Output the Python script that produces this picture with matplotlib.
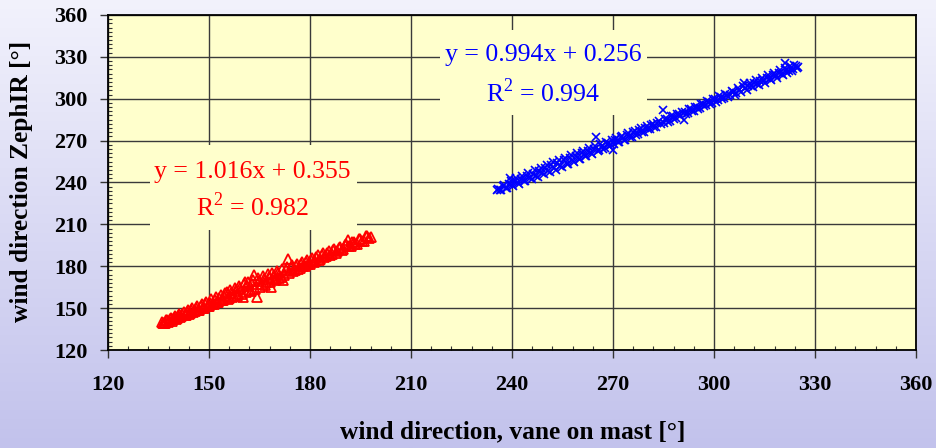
import numpy as np
import matplotlib
matplotlib.use('Agg')
import matplotlib.pyplot as plt
from matplotlib.patches import Rectangle
from matplotlib.ticker import MultipleLocator

plt.rcParams['font.family'] = 'Liberation Serif'
plt.rcParams['mathtext.fontset'] = 'custom'
plt.rcParams['mathtext.rm'] = 'Liberation Serif'

# sector 1: vane 135..200 deg
red_x = [136.0, 136.5, 137.2, 137.8, 138.3, 139.0, 139.6, 140.2, 140.9, 141.5,
         142.1, 142.8, 143.4, 144.0, 144.7, 145.3, 146.0, 146.8, 147.5, 148.1,
         148.9, 149.6, 150.3, 151.0, 151.8, 152.4, 153.1, 153.9, 154.6, 155.2,
         155.9, 156.5, 157.3, 158.0, 158.6, 159.3, 160.0, 160.7, 161.4, 162.0,
         162.8, 163.5, 164.2, 164.9, 165.6, 166.3, 167.0, 167.8, 168.5, 169.2,
         169.9, 170.6, 171.3, 172.0, 172.8, 173.5, 174.3, 175.0, 175.8, 176.5,
         177.3, 178.0, 178.8, 179.5, 180.3, 181.1, 181.9, 182.7, 183.5, 184.3,
         185.1, 186.0, 186.8, 187.7, 188.5, 189.4, 190.3, 191.2, 192.1, 193.0,
         194.0, 195.0, 196.0, 197.0, 198.0,
         136.3, 137.0, 137.5, 138.0, 138.7, 139.3, 139.9, 140.5, 141.2, 141.8,
         142.5, 143.1, 143.7, 144.4, 145.0, 145.7, 146.4, 147.1, 147.8, 148.5,
         149.2, 149.9, 150.7, 151.4, 152.1, 152.8, 153.5, 154.2, 154.9, 155.6,
         156.2, 156.9, 157.7, 158.3, 159.0, 159.7, 160.4, 161.0, 161.7, 162.4,
         163.1, 163.8, 164.5, 165.2, 166.0, 166.7, 167.4, 168.1, 168.8, 169.5,
         170.2, 170.9, 171.6, 172.4, 173.1, 173.9, 174.6, 175.4, 176.1, 176.9,
         177.6, 178.4, 179.1, 179.9, 180.7, 181.5, 182.3, 183.1, 183.9, 184.7,
         185.5, 186.4, 187.2, 188.1, 188.9, 189.8, 190.7, 191.6, 192.5, 193.5,
         194.5, 195.5, 196.5, 197.5]
red_y = [140.1, 139.6, 141.2, 140.4, 142.0, 141.1, 143.2, 142.3, 144.6, 143.5,
         145.9, 144.8, 147.3, 146.0, 148.6, 147.2, 149.9, 148.7, 151.4, 150.1,
         152.9, 151.2, 154.0, 152.8, 155.9, 154.1, 157.2, 155.6, 158.9, 161.3,
         157.4, 160.8, 158.6, 162.9, 159.8, 164.1, 158.2, 168.9, 165.8, 163.1,
         167.5, 173.6, 158.3, 169.4, 167.0, 171.0, 168.6, 172.6, 165.4, 174.0,
         171.2, 175.5, 172.6, 170.2, 177.4, 185.2, 178.9, 176.6, 180.3, 178.2,
         181.8, 179.9, 183.3, 181.6, 184.8, 183.1, 186.4, 184.7, 188.2, 186.3,
         189.7, 188.2, 191.5, 189.6, 193.0, 191.4, 194.9, 199.0, 194.3, 197.6,
         196.2, 199.5, 198.3, 201.4, 201.0,
         139.1, 139.4, 141.5, 140.6, 142.9, 142.0, 144.3, 143.0, 145.7, 144.1,
         147.1, 145.3, 148.5, 146.6, 149.9, 147.8, 151.5, 149.0, 153.0, 150.3,
         154.6, 151.7, 156.3, 153.0, 157.9, 154.2, 159.5, 155.5, 161.1, 156.6,
         162.7, 157.8, 164.4, 159.0, 165.9, 160.1, 167.3, 161.3, 168.8, 162.6,
         170.2, 163.9, 171.5, 165.2, 172.9, 166.9, 174.2, 168.5, 175.5, 170.2,
         176.7, 171.8, 177.9, 173.5, 179.2, 175.2, 180.6, 177.0, 181.9, 178.6,
         183.3, 180.2, 184.7, 181.8, 186.2, 183.6, 187.8, 185.3, 189.3, 187.0,
         190.8, 188.7, 192.4, 190.6, 194.1, 192.3, 195.8, 194.2, 197.5, 196.2,
         199.5, 198.3, 201.5, 200.5]

# sector 2: vane 235..325 deg
blue_x = [235.5, 236.4, 237.3, 238.2, 239.1, 239.4, 240.0, 240.9, 241.8, 242.7,
          243.6, 244.5, 245.4, 246.3, 247.2, 248.1, 249.0, 249.9, 250.8, 251.7,
          252.6, 253.5, 254.4, 255.3, 256.2, 257.1, 258.0, 258.9, 259.8, 260.7,
          261.6, 262.5, 263.4, 264.3, 265.0, 265.8, 266.7, 267.6, 268.5, 269.4,
          270.0, 270.6, 271.5, 272.4, 273.3, 274.2, 275.1, 276.0, 276.9, 277.8,
          278.7, 279.6, 280.5, 281.4, 282.3, 283.2, 284.8, 285.0, 285.9, 286.8,
          287.7, 288.6, 289.5, 291.0, 291.3, 292.2, 293.1, 294.0, 294.9, 295.8,
          296.7, 297.6, 298.5, 299.4, 300.3, 301.2, 302.1, 303.0, 303.9, 304.8,
          305.7, 306.6, 307.5, 309.0, 309.3, 310.2, 311.1, 312.0, 312.9, 313.8,
          314.7, 315.6, 316.5, 317.4, 318.3, 319.2, 320.1, 321.0, 321.5, 322.2,
          322.9, 323.6, 324.3, 325.0,
          235.9, 236.8, 237.7, 238.6, 239.6, 240.4, 241.3, 242.2, 243.1, 244.0,
          244.9, 245.8, 246.7, 247.6, 248.5, 249.4, 250.3, 251.2, 252.1, 253.0,
          253.9, 254.8, 255.7, 256.6, 257.5, 258.4, 259.3, 260.2, 261.1, 262.0,
          262.9, 263.8, 264.6, 265.4, 266.2, 267.1, 268.0, 268.9, 269.8, 270.3,
          271.0, 271.9, 272.8, 273.7, 274.6, 275.5, 276.4, 277.3, 278.2, 279.1,
          280.0, 280.9, 281.8, 282.7, 283.6, 284.4, 285.4, 286.3, 287.2, 288.1,
          289.0, 289.9, 290.6, 291.7, 292.6, 293.5, 294.4, 295.3, 296.2, 297.1,
          298.0, 298.9, 299.8, 300.7, 301.6, 302.5, 303.4, 304.3, 305.2, 306.1,
          307.0, 307.9, 308.6, 309.7, 310.6, 311.5, 312.4, 313.3, 314.2, 315.1,
          316.0, 316.9, 317.8, 318.7, 319.6, 320.5, 321.2, 321.8, 322.5, 323.2,
          323.9, 324.6]
blue_y = [234.9, 234.3, 237.2, 236.1, 239.0, 243.2, 238.0, 240.9, 239.6, 242.5,
          241.3, 244.6, 243.0, 246.3, 244.9, 248.5, 246.8, 250.1, 248.4, 252.4,
          250.2, 254.1, 252.0, 255.9, 253.5, 257.8, 255.2, 259.3, 257.0, 261.0,
          259.1, 262.5, 260.8, 264.3, 272.6, 263.1, 266.5, 265.0, 268.5, 267.0,
          263.0, 270.2, 269.0, 272.3, 270.8, 274.0, 272.6, 275.9, 274.3, 277.6,
          276.1, 279.4, 278.0, 281.1, 279.7, 282.8, 292.0, 282.5, 285.6, 284.3,
          287.4, 286.0, 289.3, 284.8, 290.8, 289.7, 292.6, 291.4, 294.3, 293.3,
          296.1, 295.2, 297.8, 296.9, 299.6, 298.9, 301.3, 300.8, 303.0, 302.6,
          304.9, 304.4, 306.6, 311.0, 307.4, 309.2, 308.9, 311.2, 310.8, 313.0,
          312.5, 314.9, 314.3, 316.8, 316.0, 318.6, 318.0, 325.4, 320.6, 319.9,
          322.1, 321.3, 323.4, 322.6,
          235.7, 234.8, 238.5, 236.2, 240.9, 237.7, 242.9, 239.2, 244.9, 240.8,
          246.9, 242.6, 248.8, 244.2, 250.7, 245.9, 252.6, 247.7, 254.4, 249.3,
          256.0, 251.2, 257.7, 253.1, 259.4, 255.0, 261.0, 256.9, 262.7, 258.8,
          264.4, 260.6, 266.0, 262.3, 267.5, 264.0, 269.2, 265.9, 270.8, 267.3,
          271.9, 268.9, 273.6, 270.8, 275.3, 272.6, 277.0, 274.5, 278.8, 276.3,
          280.5, 278.2, 282.2, 280.0, 283.9, 281.8, 285.5, 283.6, 287.3, 285.5,
          289.0, 287.3, 290.6, 289.2, 292.6, 291.0, 294.4, 292.8, 296.2, 294.6,
          298.1, 296.3, 300.0, 298.0, 301.9, 299.6, 303.7, 301.3, 305.6, 303.0,
          307.5, 304.7, 309.2, 306.4, 311.3, 308.1, 313.2, 309.9, 315.1, 311.6,
          316.9, 313.4, 318.8, 315.2, 320.5, 317.0, 322.1, 318.5, 323.3, 320.1,
          324.4, 321.9]

red_eq = ['y = 1.016x + 0.355', 'R$^2$ = 0.982']
blue_eq = ['y = 0.994x + 0.256', 'R$^2$ = 0.994']

fig = plt.figure(figsize=(9.37, 4.48), dpi=100)

# lavender gradient behind everything
bg = fig.add_axes([0, 0, 1, 1], zorder=-10)
grad = np.linspace(0, 1, 256).reshape(-1, 1)
top = np.array([242, 242, 252]) / 255.0
bot = np.array([194, 194, 236]) / 255.0
img = top + (bot - top) * grad[:, :, None]
bg.imshow(img, aspect='auto', extent=[0, 1, 0, 1])
bg.axis('off')

ax = fig.add_axes([108 / 937, 98 / 448, 808 / 937, 335 / 448])
ax.set_facecolor('#ffffcc')
ax.set_xlim(120, 360)
ax.set_ylim(120, 360)
ax.xaxis.set_major_locator(MultipleLocator(30))
ax.yaxis.set_major_locator(MultipleLocator(30))
ax.xaxis.set_minor_locator(MultipleLocator(6))
ax.yaxis.set_minor_locator(MultipleLocator(3))
ax.grid(True, which='major', color='#3a3a3a', lw=1.0, zorder=1)
ax.set_axisbelow(True)
ax.tick_params(which='major', direction='out', length=6, width=1.0, color='#333333')
ax.tick_params(which='minor', direction='in', length=3, width=0.8, color='#333333')
ax.tick_params(axis='x', which='major', pad=12)
ax.tick_params(axis='y', which='major', pad=9)
for lab in ax.get_xticklabels() + ax.get_yticklabels():
    lab.set_fontsize(16)
    lab.set_fontweight('bold')
for sp in ax.spines.values():
    sp.set_linewidth(1.3)
    sp.set_color('black')

# boxes that hide the grid behind the fit equations
ax.add_patch(Rectangle((132.5, 206.0), 61.4, 60.8, facecolor='#ffffcc',
                       edgecolor='none', zorder=2))
ax.add_patch(Rectangle((218.6, 288.3), 61.5, 60.9, facecolor='#ffffcc',
                       edgecolor='none', zorder=2))

ax.plot(red_x, red_y, ls='none', marker='^', ms=6.5, mfc='none', mec='red',
        mew=1.3, zorder=3, clip_on=False)
ax.plot(blue_x, blue_y, ls='none', marker='x', ms=5.5, mec='blue',
        mew=1.2, zorder=3, clip_on=False)

ax.text(162.9, 247.7, red_eq[0], color='red', fontsize=18.5, ha='center',
        va='center', zorder=4)
ax.text(162.9, 222.6, red_eq[1], color='red', fontsize=18.5, ha='center',
        va='center', zorder=4)
ax.text(249.2, 331.3, blue_eq[0], color='blue', fontsize=18.5, ha='center',
        va='center', zorder=4)
ax.text(249.2, 304.1, blue_eq[1], color='blue', fontsize=18.5, ha='center',
        va='center', zorder=4)

fig.text(513 / 937, 1 - 432 / 448, 'wind direction, vane on mast [°]',
         fontsize=18.3, fontweight='bold', ha='center', va='center')
fig.text(22 / 937, 1 - 181 / 448, 'wind direction ZephIR [°]',
         fontsize=18.3, fontweight='bold', ha='center', va='center', rotation=90)

fig.savefig('out.png', dpi=100)
